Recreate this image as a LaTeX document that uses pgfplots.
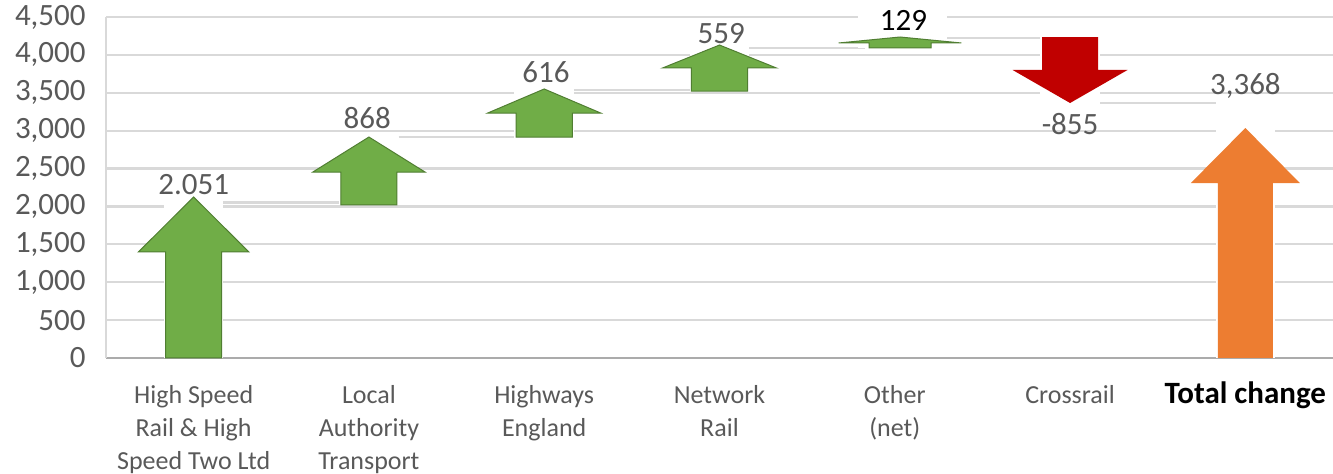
\documentclass[border=0pt]{standalone}
\usepackage{fontspec}
\setmainfont{Carlito}
\usepackage{pgfplots}
\pgfplotsset{compat=1.18}
\definecolor{gridgray}{HTML}{D9D9D9}
\definecolor{axisgray}{HTML}{ABABAB}
\definecolor{txtgray}{HTML}{595959}
\definecolor{agreen}{HTML}{70AD47}
\definecolor{agreenedge}{HTML}{507E32}
\definecolor{ared}{HTML}{C00000}
\definecolor{aorange}{HTML}{ED7D31}
\newcommand{\fl}{\rule{0pt}{11.5pt}}
\begin{document}
\begin{tikzpicture}
\path[use as bounding box] (0,0) rectangle (666.5pt,237pt);
\begin{axis}[
  at={(53pt,58pt)}, anchor=south west,
  width=613.5pt, height=170.5pt, scale only axis,
  xmin=-0.5, xmax=6.5, ymin=0, ymax=4500,
  clip=false,
  axis x line*=bottom, axis y line*=left,
  x axis line style={-, draw=axisgray, line width=1.1pt},
  y axis line style={-, draw=gridgray, line width=1.1pt},
  ytick={0,500,...,4500},
  ymajorgrids, major grid style={draw=gridgray, line width=1.1pt},
  major tick length=0pt,
  yticklabel style={font=\fontsize{15.5}{18}\selectfont, color=txtgray,
    inner sep=0pt, anchor=east, xshift=-10pt},
  /pgf/number format/assume math mode=true,
  /pgf/number format/1000 sep={,},
  scaled y ticks=false,
  xtick={0,...,6},
  xticklabels={{\fl High Speed\\Rail \& High\\Speed Two Ltd},
    {\fl Local\\Authority\\Transport},
    {\fl Highways\\England},
    {\fl Network\\Rail},
    {\fl Other\\(net)},
    {\fl Crossrail},
    {\fl\fontsize{15.5}{18}\selectfont\bfseries\color{black}Total change}},
  xticklabel style={font=\fontsize{13}{16.5}\selectfont, color=txtgray,
    align=center, anchor=north, inner sep=0pt, yshift=-11pt},
]
% connectors between steps
\addplot[draw=gridgray, line width=1.1pt] coordinates {(0.17,2051) (0.83,2051)};
\addplot[draw=gridgray, line width=1.1pt] coordinates {(1.17,2919) (1.83,2919)};
\addplot[draw=gridgray, line width=1.1pt] coordinates {(2.17,3535) (2.83,3535)};
\addplot[draw=gridgray, line width=1.1pt] coordinates {(3.17,4094) (3.83,4094)};
\addplot[draw=gridgray, line width=1.1pt] coordinates {(4.17,4223) (4.83,4223)};
\addplot[draw=gridgray, line width=1.1pt] coordinates {(5.17,3368) (5.83,3368)};

% white step bars (hide gridlines)
\addplot[fill=white, draw=none] coordinates {(-0.17,0) (0.17,0) (0.17,2051) (-0.17,2051)} --cycle;
\addplot[fill=white, draw=none] coordinates {(0.83,2051) (1.17,2051) (1.17,2919) (0.83,2919)} --cycle;
\addplot[fill=white, draw=none] coordinates {(1.83,2919) (2.17,2919) (2.17,3535) (1.83,3535)} --cycle;
\addplot[fill=white, draw=none] coordinates {(2.83,3535) (3.17,3535) (3.17,4094) (2.83,4094)} --cycle;
\addplot[fill=white, draw=none] coordinates {(3.79,4085) (4.30,4085) (4.30,4530) (3.79,4530)} --cycle;
\addplot[fill=white, draw=none] coordinates {(4.83,3368) (5.17,3368) (5.17,4223) (4.83,4223)} --cycle;
\addplot[fill=white, draw=none] coordinates {(5.83,0) (6.17,0) (6.17,3368) (5.83,3368)} --cycle;

% arrows
\addplot[fill=agreen, draw=agreenedge, line width=0.5pt] coordinates {
  (-0.16,0) (0.16,0) (0.16,1399) (0.315,1399) (0,2125) (-0.315,1399) (-0.16,1399)} --cycle;
\addplot[fill=agreen, draw=agreenedge, line width=0.5pt] coordinates {
  (0.84,2020) (1.16,2020) (1.16,2454) (1.32,2454) (1,2916) (0.68,2454) (0.84,2454)} --cycle;
\addplot[fill=agreen, draw=agreenedge, line width=0.5pt] coordinates {
  (1.84,2916) (2.16,2916) (2.16,3233) (2.322,3233) (2,3550) (1.678,3233) (1.84,3233)} --cycle;
\addplot[fill=agreen, draw=agreenedge, line width=0.5pt] coordinates {
  (2.84,3523) (3.16,3523) (3.16,3827) (3.325,3827) (3,4130) (2.675,3827) (2.84,3827)} --cycle;
\addplot[fill=agreen, draw=agreenedge, line width=0.5pt] coordinates {
  (3.853,4091) (4.207,4091) (4.207,4157) (4.38,4157) (4.03,4236) (3.68,4157) (3.853,4157)} --cycle;
\addplot[fill=ared, draw=none] coordinates {
  (4.84,4236) (5.16,4236) (5.16,3801) (5.328,3801) (5,3365) (4.672,3801) (4.84,3801)} --cycle;
\addplot[fill=aorange, draw=none] coordinates {
  (5.843,0) (6.157,0) (6.157,2309) (6.311,2309) (6,3035) (5.689,2309) (5.843,2309)} --cycle;

% data labels
\addplot[draw=none, mark=none, nodes near coords, point meta=explicit symbolic,
  every node near coord/.style={anchor=base, inner sep=0pt, color=txtgray,
    font=\fontsize{15.5}{18}\selectfont}]
  coordinates {(0,2164) [2.051] (0.99,3035) [868] (2.01,3642) [616]
    (3.01,4144) [559] (5,2943) [-855] (6,3471) [{3,368}]};
\addplot[draw=none, mark=none, nodes near coords, point meta=explicit symbolic,
  every node near coord/.style={anchor=base, inner sep=0pt, color=black,
    font=\fontsize{15.5}{18}\selectfont}]
  coordinates {(4.05,4328) [129]};
\end{axis}
\end{tikzpicture}
\end{document}
